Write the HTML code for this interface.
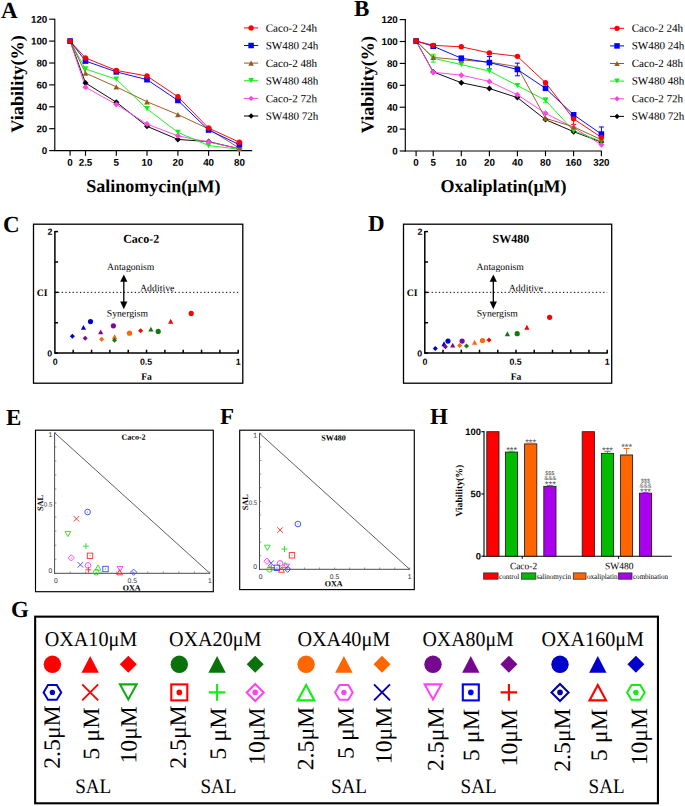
<!DOCTYPE html>
<html><head><meta charset="utf-8"><style>
html,body{margin:0;padding:0;background:#fff;}
svg{display:block;}
</style></head><body>
<svg width="685" height="806" viewBox="0 0 685 806">
<rect width="685" height="806" fill="#fff"/>
<text x="1.00" y="18.00" transform="rotate(0.03 1.00 18.00)" font-family="Liberation Serif" font-size="23" font-weight="bold" text-anchor="start" fill="#000" >A</text><text x="354.00" y="16.00" transform="rotate(0.03 354.00 16.00)" font-family="Liberation Serif" font-size="23" font-weight="bold" text-anchor="start" fill="#000" >B</text><text x="3.00" y="232.00" transform="rotate(0.03 3.00 232.00)" font-family="Liberation Serif" font-size="23" font-weight="bold" text-anchor="start" fill="#000" >C</text><text x="368.00" y="231.00" transform="rotate(0.03 368.00 231.00)" font-family="Liberation Serif" font-size="23" font-weight="bold" text-anchor="start" fill="#000" >D</text><text x="6.00" y="425.00" transform="rotate(0.03 6.00 425.00)" font-family="Liberation Serif" font-size="23" font-weight="bold" text-anchor="start" fill="#000" >E</text><text x="220.00" y="424.00" transform="rotate(0.03 220.00 424.00)" font-family="Liberation Serif" font-size="23" font-weight="bold" text-anchor="start" fill="#000" >F</text><text x="11.00" y="616.90" transform="rotate(0.03 11.00 616.90)" font-family="Liberation Serif" font-size="23" font-weight="bold" text-anchor="start" fill="#000" >G</text><text x="430.00" y="424.00" transform="rotate(0.03 430.00 424.00)" font-family="Liberation Serif" font-size="23" font-weight="bold" text-anchor="start" fill="#000" >H</text><line x1="54.80" y1="18.70" x2="54.80" y2="151.10" stroke="#000" stroke-width="1.15" /><line x1="49.20" y1="150.60" x2="54.80" y2="150.60" stroke="#000" stroke-width="1.15" /><text x="47.30" y="154.10" transform="rotate(0.03 47.30 154.10)" font-family="Liberation Sans" font-size="9.8" font-weight="bold" text-anchor="end" fill="#000" >0</text><line x1="49.20" y1="128.70" x2="54.80" y2="128.70" stroke="#000" stroke-width="1.15" /><text x="47.30" y="132.20" transform="rotate(0.03 47.30 132.20)" font-family="Liberation Sans" font-size="9.8" font-weight="bold" text-anchor="end" fill="#000" >20</text><line x1="49.20" y1="106.80" x2="54.80" y2="106.80" stroke="#000" stroke-width="1.15" /><text x="47.30" y="110.30" transform="rotate(0.03 47.30 110.30)" font-family="Liberation Sans" font-size="9.8" font-weight="bold" text-anchor="end" fill="#000" >40</text><line x1="49.20" y1="84.90" x2="54.80" y2="84.90" stroke="#000" stroke-width="1.15" /><text x="47.30" y="88.40" transform="rotate(0.03 47.30 88.40)" font-family="Liberation Sans" font-size="9.8" font-weight="bold" text-anchor="end" fill="#000" >60</text><line x1="49.20" y1="63.00" x2="54.80" y2="63.00" stroke="#000" stroke-width="1.15" /><text x="47.30" y="66.50" transform="rotate(0.03 47.30 66.50)" font-family="Liberation Sans" font-size="9.8" font-weight="bold" text-anchor="end" fill="#000" >80</text><line x1="49.20" y1="41.10" x2="54.80" y2="41.10" stroke="#000" stroke-width="1.15" /><text x="47.30" y="44.60" transform="rotate(0.03 47.30 44.60)" font-family="Liberation Sans" font-size="9.8" font-weight="bold" text-anchor="end" fill="#000" >100</text><line x1="49.20" y1="19.20" x2="54.80" y2="19.20" stroke="#000" stroke-width="1.15" /><text x="47.30" y="22.70" transform="rotate(0.03 47.30 22.70)" font-family="Liberation Sans" font-size="9.8" font-weight="bold" text-anchor="end" fill="#000" >120</text><line x1="54.20" y1="150.60" x2="252.20" y2="150.60" stroke="#000" stroke-width="1.15" /><line x1="70.10" y1="150.60" x2="70.10" y2="155.80" stroke="#000" stroke-width="1.15" /><text x="70.10" y="165.80" transform="rotate(0.03 70.10 165.80)" font-family="Liberation Sans" font-size="9.8" font-weight="bold" text-anchor="middle" fill="#000" >0</text><line x1="85.50" y1="150.60" x2="85.50" y2="155.80" stroke="#000" stroke-width="1.15" /><text x="85.50" y="165.80" transform="rotate(0.03 85.50 165.80)" font-family="Liberation Sans" font-size="9.8" font-weight="bold" text-anchor="middle" fill="#000" >2.5</text><line x1="116.30" y1="150.60" x2="116.30" y2="155.80" stroke="#000" stroke-width="1.15" /><text x="116.30" y="165.80" transform="rotate(0.03 116.30 165.80)" font-family="Liberation Sans" font-size="9.8" font-weight="bold" text-anchor="middle" fill="#000" >5</text><line x1="147.00" y1="150.60" x2="147.00" y2="155.80" stroke="#000" stroke-width="1.15" /><text x="147.00" y="165.80" transform="rotate(0.03 147.00 165.80)" font-family="Liberation Sans" font-size="9.8" font-weight="bold" text-anchor="middle" fill="#000" >10</text><line x1="177.90" y1="150.60" x2="177.90" y2="155.80" stroke="#000" stroke-width="1.15" /><text x="177.90" y="165.80" transform="rotate(0.03 177.90 165.80)" font-family="Liberation Sans" font-size="9.8" font-weight="bold" text-anchor="middle" fill="#000" >20</text><line x1="208.60" y1="150.60" x2="208.60" y2="155.80" stroke="#000" stroke-width="1.15" /><text x="208.60" y="165.80" transform="rotate(0.03 208.60 165.80)" font-family="Liberation Sans" font-size="9.8" font-weight="bold" text-anchor="middle" fill="#000" >40</text><line x1="239.40" y1="150.60" x2="239.40" y2="155.80" stroke="#000" stroke-width="1.15" /><text x="239.40" y="165.80" transform="rotate(0.03 239.40 165.80)" font-family="Liberation Sans" font-size="9.8" font-weight="bold" text-anchor="middle" fill="#000" >80</text><text x="86.30" y="192.10" transform="rotate(0.03 86.30 192.10)" font-family="Liberation Serif" font-size="18" font-weight="bold" text-anchor="start" fill="#000" textLength="134.2" lengthAdjust="spacingAndGlyphs" >Salinomycin(μM)</text><text transform="translate(23.20,84.00) rotate(-89.97)" x="0" y="0" font-family="Liberation Serif" font-size="18" font-weight="bold" text-anchor="middle" fill="#000" textLength="97.5" lengthAdjust="spacingAndGlyphs">Viability(%)</text><polyline points="70.10,41.10 85.50,82.93 116.30,102.20 147.00,126.29 177.90,139.43 208.60,141.62 239.40,148.85" fill="none" stroke="#000000" stroke-width="0.95" stroke-linejoin="round" /><polyline points="70.10,41.10 85.50,87.20 116.30,104.39 147.00,124.10 177.90,135.82 208.60,142.06 239.40,148.63" fill="none" stroke="#ff44e4" stroke-width="0.95" stroke-linejoin="round" /><polyline points="70.10,41.10 85.50,69.02 116.30,79.21 147.00,108.77 177.90,132.42 208.60,145.56 239.40,149.29" fill="none" stroke="#11f011" stroke-width="0.95" stroke-linejoin="round" /><polyline points="70.10,41.10 85.50,73.07 116.30,86.87 147.00,101.76 177.90,114.57 208.60,128.92 239.40,148.19" fill="none" stroke="#9a5a1e" stroke-width="0.95" stroke-linejoin="round" /><polyline points="70.10,41.10 85.50,61.03 116.30,71.87 147.00,79.64 177.90,100.45 208.60,130.01 239.40,144.69" fill="none" stroke="#0000ff" stroke-width="0.95" stroke-linejoin="round" /><polyline points="70.10,41.10 85.50,57.96 116.30,70.45 147.00,76.03 177.90,96.73 208.60,128.04 239.40,142.28" fill="none" stroke="#ff0000" stroke-width="0.95" stroke-linejoin="round" /><polygon points="70.10,38.10 73.10,41.10 70.10,44.10 67.10,41.10" fill="#000000" /><polygon points="85.50,79.93 88.50,82.93 85.50,85.93 82.50,82.93" fill="#000000" /><polygon points="116.30,99.20 119.30,102.20 116.30,105.20 113.30,102.20" fill="#000000" /><polygon points="147.00,123.29 150.00,126.29 147.00,129.29 144.00,126.29" fill="#000000" /><polygon points="177.90,136.43 180.90,139.43 177.90,142.43 174.90,139.43" fill="#000000" /><polygon points="208.60,138.62 211.60,141.62 208.60,144.62 205.60,141.62" fill="#000000" /><polygon points="239.40,145.85 242.40,148.85 239.40,151.85 236.40,148.85" fill="#000000" /><polygon points="70.10,38.10 73.10,41.10 70.10,44.10 67.10,41.10" fill="#ff44e4" /><polygon points="85.50,84.20 88.50,87.20 85.50,90.20 82.50,87.20" fill="#ff44e4" /><polygon points="116.30,101.39 119.30,104.39 116.30,107.39 113.30,104.39" fill="#ff44e4" /><polygon points="147.00,121.10 150.00,124.10 147.00,127.10 144.00,124.10" fill="#ff44e4" /><polygon points="177.90,132.82 180.90,135.82 177.90,138.82 174.90,135.82" fill="#ff44e4" /><polygon points="208.60,139.06 211.60,142.06 208.60,145.06 205.60,142.06" fill="#ff44e4" /><polygon points="239.40,145.63 242.40,148.63 239.40,151.63 236.40,148.63" fill="#ff44e4" /><polygon points="67.30,38.44 72.90,38.44 70.10,43.76" fill="#11f011" /><polygon points="82.70,66.36 88.30,66.36 85.50,71.68" fill="#11f011" /><polygon points="113.50,76.55 119.10,76.55 116.30,81.87" fill="#11f011" /><polygon points="144.20,106.11 149.80,106.11 147.00,111.43" fill="#11f011" /><polygon points="175.10,129.76 180.70,129.76 177.90,135.08" fill="#11f011" /><polygon points="205.80,142.90 211.40,142.90 208.60,148.22" fill="#11f011" /><polygon points="236.60,146.63 242.20,146.63 239.40,151.95" fill="#11f011" /><polygon points="70.10,38.44 72.90,43.76 67.30,43.76" fill="#9a5a1e" /><polygon points="85.50,70.41 88.30,75.73 82.70,75.73" fill="#9a5a1e" /><polygon points="116.30,84.21 119.10,89.53 113.50,89.53" fill="#9a5a1e" /><polygon points="147.00,99.10 149.80,104.42 144.20,104.42" fill="#9a5a1e" /><polygon points="177.90,111.91 180.70,117.23 175.10,117.23" fill="#9a5a1e" /><polygon points="208.60,126.26 211.40,131.58 205.80,131.58" fill="#9a5a1e" /><polygon points="239.40,145.53 242.20,150.85 236.60,150.85" fill="#9a5a1e" /><rect x="67.30" y="38.30" width="5.60" height="5.60" fill="#0000ff" /><rect x="82.70" y="58.23" width="5.60" height="5.60" fill="#0000ff" /><rect x="113.50" y="69.07" width="5.60" height="5.60" fill="#0000ff" /><rect x="144.20" y="76.84" width="5.60" height="5.60" fill="#0000ff" /><rect x="175.10" y="97.65" width="5.60" height="5.60" fill="#0000ff" /><rect x="205.80" y="127.21" width="5.60" height="5.60" fill="#0000ff" /><rect x="236.60" y="141.89" width="5.60" height="5.60" fill="#0000ff" /><circle cx="70.10" cy="41.10" r="2.70" fill="#ff0000" /><circle cx="85.50" cy="57.96" r="2.70" fill="#ff0000" /><circle cx="116.30" cy="70.45" r="2.70" fill="#ff0000" /><circle cx="147.00" cy="76.03" r="2.70" fill="#ff0000" /><circle cx="177.90" cy="96.73" r="2.70" fill="#ff0000" /><circle cx="208.60" cy="128.04" r="2.70" fill="#ff0000" /><circle cx="239.40" cy="142.28" r="2.70" fill="#ff0000" /><line x1="244.00" y1="27.90" x2="258.20" y2="27.90" stroke="#ff0000" stroke-width="1.0" /><circle cx="251.10" cy="27.90" r="2.65" fill="#ff0000" /><text x="265.70" y="31.70" transform="rotate(0.03 265.70 31.70)" font-family="Liberation Serif" font-size="11.1" font-weight="normal" text-anchor="start" fill="#000" >Caco-2 24h</text><line x1="244.00" y1="45.50" x2="258.20" y2="45.50" stroke="#0000ff" stroke-width="1.0" /><rect x="248.36" y="42.76" width="5.49" height="5.49" fill="#0000ff" /><text x="265.70" y="49.30" transform="rotate(0.03 265.70 49.30)" font-family="Liberation Serif" font-size="11.1" font-weight="normal" text-anchor="start" fill="#000" >SW480 24h</text><line x1="244.00" y1="63.10" x2="258.20" y2="63.10" stroke="#9a5a1e" stroke-width="1.0" /><polygon points="251.10,60.49 253.84,65.71 248.36,65.71" fill="#9a5a1e" /><text x="265.70" y="66.90" transform="rotate(0.03 265.70 66.90)" font-family="Liberation Serif" font-size="11.1" font-weight="normal" text-anchor="start" fill="#000" >Caco-2 48h</text><line x1="244.00" y1="80.70" x2="258.20" y2="80.70" stroke="#11f011" stroke-width="1.0" /><polygon points="248.36,78.09 253.84,78.09 251.10,83.31" fill="#11f011" /><text x="265.70" y="84.50" transform="rotate(0.03 265.70 84.50)" font-family="Liberation Serif" font-size="11.1" font-weight="normal" text-anchor="start" fill="#000" >SW480 48h</text><line x1="244.00" y1="98.40" x2="258.20" y2="98.40" stroke="#ff44e4" stroke-width="1.0" /><polygon points="251.10,95.70 253.80,98.40 251.10,101.10 248.40,98.40" fill="#ff44e4" /><text x="265.70" y="102.20" transform="rotate(0.03 265.70 102.20)" font-family="Liberation Serif" font-size="11.1" font-weight="normal" text-anchor="start" fill="#000" >Caco-2 72h</text><line x1="244.00" y1="116.00" x2="258.20" y2="116.00" stroke="#000000" stroke-width="1.0" /><polygon points="251.10,113.30 253.80,116.00 251.10,118.70 248.40,116.00" fill="#000000" /><text x="265.70" y="119.80" transform="rotate(0.03 265.70 119.80)" font-family="Liberation Serif" font-size="11.1" font-weight="normal" text-anchor="start" fill="#000" >SW480 72h</text><line x1="405.30" y1="19.10" x2="405.30" y2="151.50" stroke="#000" stroke-width="1.15" /><line x1="399.70" y1="151.00" x2="405.30" y2="151.00" stroke="#000" stroke-width="1.15" /><text x="397.80" y="154.50" transform="rotate(0.03 397.80 154.50)" font-family="Liberation Sans" font-size="9.8" font-weight="bold" text-anchor="end" fill="#000" >0</text><line x1="399.70" y1="129.10" x2="405.30" y2="129.10" stroke="#000" stroke-width="1.15" /><text x="397.80" y="132.60" transform="rotate(0.03 397.80 132.60)" font-family="Liberation Sans" font-size="9.8" font-weight="bold" text-anchor="end" fill="#000" >20</text><line x1="399.70" y1="107.20" x2="405.30" y2="107.20" stroke="#000" stroke-width="1.15" /><text x="397.80" y="110.70" transform="rotate(0.03 397.80 110.70)" font-family="Liberation Sans" font-size="9.8" font-weight="bold" text-anchor="end" fill="#000" >40</text><line x1="399.70" y1="85.30" x2="405.30" y2="85.30" stroke="#000" stroke-width="1.15" /><text x="397.80" y="88.80" transform="rotate(0.03 397.80 88.80)" font-family="Liberation Sans" font-size="9.8" font-weight="bold" text-anchor="end" fill="#000" >60</text><line x1="399.70" y1="63.40" x2="405.30" y2="63.40" stroke="#000" stroke-width="1.15" /><text x="397.80" y="66.90" transform="rotate(0.03 397.80 66.90)" font-family="Liberation Sans" font-size="9.8" font-weight="bold" text-anchor="end" fill="#000" >80</text><line x1="399.70" y1="41.50" x2="405.30" y2="41.50" stroke="#000" stroke-width="1.15" /><text x="397.80" y="45.00" transform="rotate(0.03 397.80 45.00)" font-family="Liberation Sans" font-size="9.8" font-weight="bold" text-anchor="end" fill="#000" >100</text><line x1="399.70" y1="19.60" x2="405.30" y2="19.60" stroke="#000" stroke-width="1.15" /><text x="397.80" y="23.10" transform="rotate(0.03 397.80 23.10)" font-family="Liberation Sans" font-size="9.8" font-weight="bold" text-anchor="end" fill="#000" >120</text><line x1="404.70" y1="151.00" x2="601.90" y2="151.00" stroke="#000" stroke-width="1.15" /><line x1="416.10" y1="151.00" x2="416.10" y2="156.20" stroke="#000" stroke-width="1.15" /><text x="416.10" y="165.80" transform="rotate(0.03 416.10 165.80)" font-family="Liberation Sans" font-size="9.8" font-weight="bold" text-anchor="middle" fill="#000" >0</text><line x1="433.20" y1="151.00" x2="433.20" y2="156.20" stroke="#000" stroke-width="1.15" /><text x="433.20" y="165.80" transform="rotate(0.03 433.20 165.80)" font-family="Liberation Sans" font-size="9.8" font-weight="bold" text-anchor="middle" fill="#000" >5</text><line x1="461.30" y1="151.00" x2="461.30" y2="156.20" stroke="#000" stroke-width="1.15" /><text x="461.30" y="165.80" transform="rotate(0.03 461.30 165.80)" font-family="Liberation Sans" font-size="9.8" font-weight="bold" text-anchor="middle" fill="#000" >10</text><line x1="489.40" y1="151.00" x2="489.40" y2="156.20" stroke="#000" stroke-width="1.15" /><text x="489.40" y="165.80" transform="rotate(0.03 489.40 165.80)" font-family="Liberation Sans" font-size="9.8" font-weight="bold" text-anchor="middle" fill="#000" >20</text><line x1="517.40" y1="151.00" x2="517.40" y2="156.20" stroke="#000" stroke-width="1.15" /><text x="517.40" y="165.80" transform="rotate(0.03 517.40 165.80)" font-family="Liberation Sans" font-size="9.8" font-weight="bold" text-anchor="middle" fill="#000" >40</text><line x1="545.50" y1="151.00" x2="545.50" y2="156.20" stroke="#000" stroke-width="1.15" /><text x="545.50" y="165.80" transform="rotate(0.03 545.50 165.80)" font-family="Liberation Sans" font-size="9.8" font-weight="bold" text-anchor="middle" fill="#000" >80</text><line x1="573.60" y1="151.00" x2="573.60" y2="156.20" stroke="#000" stroke-width="1.15" /><text x="573.60" y="165.80" transform="rotate(0.03 573.60 165.80)" font-family="Liberation Sans" font-size="9.8" font-weight="bold" text-anchor="middle" fill="#000" >160</text><line x1="601.40" y1="151.00" x2="601.40" y2="156.20" stroke="#000" stroke-width="1.15" /><text x="601.40" y="165.80" transform="rotate(0.03 601.40 165.80)" font-family="Liberation Sans" font-size="9.8" font-weight="bold" text-anchor="middle" fill="#000" >320</text><text x="440.40" y="192.10" transform="rotate(0.03 440.40 192.10)" font-family="Liberation Serif" font-size="18" font-weight="bold" text-anchor="start" fill="#000" textLength="126.2" lengthAdjust="spacingAndGlyphs" >Oxaliplatin(μM)</text><text transform="translate(373.60,84.60) rotate(-89.97)" x="0" y="0" font-family="Liberation Serif" font-size="18" font-weight="bold" text-anchor="middle" fill="#000" textLength="97.5" lengthAdjust="spacingAndGlyphs">Viability(%)</text><line x1="489.40" y1="56.55" x2="489.40" y2="68.59" stroke="#0000ff" stroke-width="1" /><line x1="486.90" y1="56.55" x2="491.90" y2="56.55" stroke="#0000ff" stroke-width="1" /><line x1="486.90" y1="68.59" x2="491.90" y2="68.59" stroke="#0000ff" stroke-width="1" /><line x1="517.40" y1="63.12" x2="517.40" y2="75.82" stroke="#0000ff" stroke-width="1" /><line x1="514.90" y1="63.12" x2="519.90" y2="63.12" stroke="#0000ff" stroke-width="1" /><line x1="514.90" y1="75.82" x2="519.90" y2="75.82" stroke="#0000ff" stroke-width="1" /><line x1="573.60" y1="112.61" x2="573.60" y2="116.99" stroke="#0000ff" stroke-width="1" /><line x1="571.10" y1="112.61" x2="576.10" y2="112.61" stroke="#0000ff" stroke-width="1" /><line x1="571.10" y1="116.99" x2="576.10" y2="116.99" stroke="#0000ff" stroke-width="1" /><line x1="601.40" y1="126.96" x2="601.40" y2="141.19" stroke="#0000ff" stroke-width="1" /><line x1="598.90" y1="126.96" x2="603.90" y2="126.96" stroke="#0000ff" stroke-width="1" /><line x1="598.90" y1="141.19" x2="603.90" y2="141.19" stroke="#0000ff" stroke-width="1" /><line x1="433.20" y1="54.25" x2="433.20" y2="62.13" stroke="#11f011" stroke-width="1" /><line x1="430.70" y1="54.25" x2="435.70" y2="54.25" stroke="#11f011" stroke-width="1" /><line x1="430.70" y1="62.13" x2="435.70" y2="62.13" stroke="#11f011" stroke-width="1" /><line x1="573.60" y1="113.38" x2="573.60" y2="124.33" stroke="#ff0000" stroke-width="1" /><line x1="571.10" y1="113.38" x2="576.10" y2="113.38" stroke="#ff0000" stroke-width="1" /><line x1="571.10" y1="124.33" x2="576.10" y2="124.33" stroke="#ff0000" stroke-width="1" /><line x1="545.50" y1="97.94" x2="545.50" y2="102.76" stroke="#11f011" stroke-width="1" /><line x1="543.00" y1="97.94" x2="548.00" y2="97.94" stroke="#11f011" stroke-width="1" /><line x1="543.00" y1="102.76" x2="548.00" y2="102.76" stroke="#11f011" stroke-width="1" /><polyline points="416.10,41.00 433.20,71.88 461.30,82.72 489.40,88.52 517.40,97.61 545.50,119.62 573.60,131.67 601.40,142.07" fill="none" stroke="#000000" stroke-width="0.95" stroke-linejoin="round" /><polyline points="416.10,41.00 433.20,72.21 461.30,75.16 489.40,81.41 517.40,94.76 545.50,113.27 573.60,127.61 601.40,144.81" fill="none" stroke="#ff44e4" stroke-width="0.95" stroke-linejoin="round" /><polyline points="416.10,41.00 433.20,58.19 461.30,64.65 489.40,71.00 517.40,85.57 545.50,100.35 573.60,130.79 601.40,141.30" fill="none" stroke="#11f011" stroke-width="0.95" stroke-linejoin="round" /><polyline points="416.10,41.00 433.20,57.42 461.30,59.94 489.40,62.13 517.40,66.73 545.50,118.31 573.60,126.85 601.40,139.66" fill="none" stroke="#9a5a1e" stroke-width="0.95" stroke-linejoin="round" /><polyline points="416.10,41.00 433.20,46.26 461.30,58.19 489.40,62.57 517.40,69.47 545.50,88.30 573.60,114.80 601.40,134.07" fill="none" stroke="#0000ff" stroke-width="0.95" stroke-linejoin="round" /><polyline points="416.10,41.00 433.20,45.38 461.30,46.80 489.40,52.94 517.40,56.33 545.50,82.72 573.60,118.85 601.40,137.36" fill="none" stroke="#ff0000" stroke-width="0.95" stroke-linejoin="round" /><polygon points="416.10,38.00 419.10,41.00 416.10,44.00 413.10,41.00" fill="#000000" /><polygon points="433.20,68.88 436.20,71.88 433.20,74.88 430.20,71.88" fill="#000000" /><polygon points="461.30,79.72 464.30,82.72 461.30,85.72 458.30,82.72" fill="#000000" /><polygon points="489.40,85.52 492.40,88.52 489.40,91.52 486.40,88.52" fill="#000000" /><polygon points="517.40,94.61 520.40,97.61 517.40,100.61 514.40,97.61" fill="#000000" /><polygon points="545.50,116.62 548.50,119.62 545.50,122.62 542.50,119.62" fill="#000000" /><polygon points="573.60,128.67 576.60,131.67 573.60,134.67 570.60,131.67" fill="#000000" /><polygon points="601.40,139.07 604.40,142.07 601.40,145.07 598.40,142.07" fill="#000000" /><polygon points="416.10,38.00 419.10,41.00 416.10,44.00 413.10,41.00" fill="#ff44e4" /><polygon points="433.20,69.21 436.20,72.21 433.20,75.21 430.20,72.21" fill="#ff44e4" /><polygon points="461.30,72.16 464.30,75.16 461.30,78.16 458.30,75.16" fill="#ff44e4" /><polygon points="489.40,78.41 492.40,81.41 489.40,84.41 486.40,81.41" fill="#ff44e4" /><polygon points="517.40,91.76 520.40,94.76 517.40,97.76 514.40,94.76" fill="#ff44e4" /><polygon points="545.50,110.27 548.50,113.27 545.50,116.27 542.50,113.27" fill="#ff44e4" /><polygon points="573.60,124.61 576.60,127.61 573.60,130.61 570.60,127.61" fill="#ff44e4" /><polygon points="601.40,141.81 604.40,144.81 601.40,147.81 598.40,144.81" fill="#ff44e4" /><polygon points="413.30,38.34 418.90,38.34 416.10,43.66" fill="#11f011" /><polygon points="430.40,55.53 436.00,55.53 433.20,60.85" fill="#11f011" /><polygon points="458.50,61.99 464.10,61.99 461.30,67.31" fill="#11f011" /><polygon points="486.60,68.34 492.20,68.34 489.40,73.66" fill="#11f011" /><polygon points="514.60,82.91 520.20,82.91 517.40,88.23" fill="#11f011" /><polygon points="542.70,97.69 548.30,97.69 545.50,103.01" fill="#11f011" /><polygon points="570.80,128.13 576.40,128.13 573.60,133.45" fill="#11f011" /><polygon points="598.60,138.64 604.20,138.64 601.40,143.96" fill="#11f011" /><polygon points="416.10,38.34 418.90,43.66 413.30,43.66" fill="#9a5a1e" /><polygon points="433.20,54.77 436.00,60.08 430.40,60.08" fill="#9a5a1e" /><polygon points="461.30,57.28 464.10,62.60 458.50,62.60" fill="#9a5a1e" /><polygon points="489.40,59.47 492.20,64.79 486.60,64.79" fill="#9a5a1e" /><polygon points="517.40,64.07 520.20,69.39 514.60,69.39" fill="#9a5a1e" /><polygon points="545.50,115.65 548.30,120.97 542.70,120.97" fill="#9a5a1e" /><polygon points="573.60,124.19 576.40,129.51 570.80,129.51" fill="#9a5a1e" /><polygon points="601.40,137.00 604.20,142.32 598.60,142.32" fill="#9a5a1e" /><rect x="413.30" y="38.20" width="5.60" height="5.60" fill="#0000ff" /><rect x="430.40" y="43.46" width="5.60" height="5.60" fill="#0000ff" /><rect x="458.50" y="55.39" width="5.60" height="5.60" fill="#0000ff" /><rect x="486.60" y="59.77" width="5.60" height="5.60" fill="#0000ff" /><rect x="514.60" y="66.67" width="5.60" height="5.60" fill="#0000ff" /><rect x="542.70" y="85.50" width="5.60" height="5.60" fill="#0000ff" /><rect x="570.80" y="112.00" width="5.60" height="5.60" fill="#0000ff" /><rect x="598.60" y="131.27" width="5.60" height="5.60" fill="#0000ff" /><circle cx="416.10" cy="41.00" r="2.70" fill="#ff0000" /><circle cx="433.20" cy="45.38" r="2.70" fill="#ff0000" /><circle cx="461.30" cy="46.80" r="2.70" fill="#ff0000" /><circle cx="489.40" cy="52.94" r="2.70" fill="#ff0000" /><circle cx="517.40" cy="56.33" r="2.70" fill="#ff0000" /><circle cx="545.50" cy="82.72" r="2.70" fill="#ff0000" /><circle cx="573.60" cy="118.85" r="2.70" fill="#ff0000" /><circle cx="601.40" cy="137.36" r="2.70" fill="#ff0000" /><line x1="610.00" y1="28.30" x2="624.00" y2="28.30" stroke="#ff0000" stroke-width="1.0" /><circle cx="617.00" cy="28.30" r="2.65" fill="#ff0000" /><text x="631.70" y="31.70" transform="rotate(0.03 631.70 31.70)" font-family="Liberation Serif" font-size="11.1" font-weight="normal" text-anchor="start" fill="#000" >Caco-2 24h</text><line x1="610.00" y1="45.90" x2="624.00" y2="45.90" stroke="#0000ff" stroke-width="1.0" /><rect x="614.26" y="43.16" width="5.49" height="5.49" fill="#0000ff" /><text x="631.70" y="49.30" transform="rotate(0.03 631.70 49.30)" font-family="Liberation Serif" font-size="11.1" font-weight="normal" text-anchor="start" fill="#000" >SW480 24h</text><line x1="610.00" y1="63.50" x2="624.00" y2="63.50" stroke="#9a5a1e" stroke-width="1.0" /><polygon points="617.00,60.89 619.74,66.11 614.26,66.11" fill="#9a5a1e" /><text x="631.70" y="66.90" transform="rotate(0.03 631.70 66.90)" font-family="Liberation Serif" font-size="11.1" font-weight="normal" text-anchor="start" fill="#000" >Caco-2 48h</text><line x1="610.00" y1="81.10" x2="624.00" y2="81.10" stroke="#11f011" stroke-width="1.0" /><polygon points="614.26,78.49 619.74,78.49 617.00,83.71" fill="#11f011" /><text x="631.70" y="84.50" transform="rotate(0.03 631.70 84.50)" font-family="Liberation Serif" font-size="11.1" font-weight="normal" text-anchor="start" fill="#000" >SW480 48h</text><line x1="610.00" y1="98.80" x2="624.00" y2="98.80" stroke="#ff44e4" stroke-width="1.0" /><polygon points="617.00,96.10 619.70,98.80 617.00,101.50 614.30,98.80" fill="#ff44e4" /><text x="631.70" y="102.20" transform="rotate(0.03 631.70 102.20)" font-family="Liberation Serif" font-size="11.1" font-weight="normal" text-anchor="start" fill="#000" >Caco-2 72h</text><line x1="610.00" y1="116.40" x2="624.00" y2="116.40" stroke="#000000" stroke-width="1.0" /><polygon points="617.00,113.70 619.70,116.40 617.00,119.10 614.30,116.40" fill="#000000" /><text x="631.70" y="119.80" transform="rotate(0.03 631.70 119.80)" font-family="Liberation Serif" font-size="11.1" font-weight="normal" text-anchor="start" fill="#000" >SW480 72h</text><rect x="33.50" y="224.2" width="209.30" height="159.0" fill="none" stroke="#000" stroke-width="1.3"/><line x1="54.90" y1="231.00" x2="54.90" y2="353.70" stroke="#000" stroke-width="1.5" /><line x1="54.90" y1="353.10" x2="58.10" y2="353.10" stroke="#000" stroke-width="1.5" /><line x1="54.90" y1="322.73" x2="58.10" y2="322.73" stroke="#000" stroke-width="1.5" /><line x1="54.90" y1="292.35" x2="58.10" y2="292.35" stroke="#000" stroke-width="1.5" /><line x1="54.90" y1="261.98" x2="58.10" y2="261.98" stroke="#000" stroke-width="1.5" /><line x1="54.90" y1="231.60" x2="58.10" y2="231.60" stroke="#000" stroke-width="1.5" /><line x1="54.90" y1="353.10" x2="238.80" y2="353.10" stroke="#000" stroke-width="1.5" /><line x1="73.23" y1="353.10" x2="73.23" y2="349.70" stroke="#000" stroke-width="1.5" /><line x1="91.56" y1="353.10" x2="91.56" y2="349.70" stroke="#000" stroke-width="1.5" /><line x1="109.89" y1="353.10" x2="109.89" y2="349.70" stroke="#000" stroke-width="1.5" /><line x1="128.22" y1="353.10" x2="128.22" y2="349.70" stroke="#000" stroke-width="1.5" /><line x1="146.55" y1="353.10" x2="146.55" y2="349.70" stroke="#000" stroke-width="1.5" /><line x1="164.88" y1="353.10" x2="164.88" y2="349.70" stroke="#000" stroke-width="1.5" /><line x1="183.21" y1="353.10" x2="183.21" y2="349.70" stroke="#000" stroke-width="1.5" /><line x1="201.54" y1="353.10" x2="201.54" y2="349.70" stroke="#000" stroke-width="1.5" /><line x1="219.87" y1="353.10" x2="219.87" y2="349.70" stroke="#000" stroke-width="1.5" /><line x1="238.20" y1="353.10" x2="238.20" y2="349.70" stroke="#000" stroke-width="1.5" /><line x1="58.05" y1="292.35" x2="238.20" y2="292.35" stroke="#000" stroke-width="1.0" stroke-dasharray="1.3 2.35"/><text x="52.40" y="234.80" transform="rotate(0.03 52.40 234.80)" font-family="Liberation Sans" font-size="8.8" font-weight="bold" text-anchor="end" fill="#000" >2</text><text x="52.20" y="356.50" transform="rotate(0.03 52.20 356.50)" font-family="Liberation Sans" font-size="8.8" font-weight="bold" text-anchor="end" fill="#000" >0</text><text x="55.10" y="364.80" transform="rotate(0.03 55.10 364.80)" font-family="Liberation Sans" font-size="8.8" font-weight="bold" text-anchor="middle" fill="#000" >0</text><text x="146.05" y="364.80" transform="rotate(0.03 146.05 364.80)" font-family="Liberation Sans" font-size="8.8" font-weight="bold" text-anchor="middle" fill="#000" >0.5</text><text x="238.20" y="364.80" transform="rotate(0.03 238.20 364.80)" font-family="Liberation Sans" font-size="8.8" font-weight="bold" text-anchor="middle" fill="#000" >1</text><text x="36.80" y="295.95" transform="rotate(0.03 36.80 295.95)" font-family="Liberation Serif" font-size="9.8" font-weight="bold" text-anchor="start" fill="#000" >CI</text><text x="146.55" y="379.80" transform="rotate(0.03 146.55 379.80)" font-family="Liberation Serif" font-size="9.6" font-weight="bold" text-anchor="middle" fill="#000" >Fa</text><text x="141.20" y="242.70" transform="rotate(0.03 141.20 242.70)" font-family="Liberation Serif" font-size="12" font-weight="bold" text-anchor="middle" fill="#000" >Caco-2</text><text x="107.10" y="270.10" transform="rotate(0.03 107.10 270.10)" font-family="Liberation Serif" font-size="9.8" font-weight="normal" text-anchor="start" fill="#000" textLength="47.3" lengthAdjust="spacingAndGlyphs" >Antagonism</text><text x="140.00" y="291.20" transform="rotate(0.03 140.00 291.20)" font-family="Liberation Serif" font-size="9.8" font-weight="normal" text-anchor="start" fill="#000" textLength="34.5" lengthAdjust="spacingAndGlyphs" >Additive</text><text x="106.80" y="316.40" transform="rotate(0.03 106.80 316.40)" font-family="Liberation Serif" font-size="9.8" font-weight="normal" text-anchor="start" fill="#000" textLength="41.2" lengthAdjust="spacingAndGlyphs" >Synergism</text><line x1="123.80" y1="279.50" x2="123.80" y2="303.50" stroke="#000" stroke-width="1.3" /><polygon points="123.80,274.4 127.40,281.8 120.20,281.8" fill="#000"/><polygon points="123.80,309.2 127.40,301.4 120.20,301.4" fill="#000"/><polygon points="72.40,333.80 74.90,336.30 72.40,338.80 69.90,336.30" fill="#0000cc" /><polygon points="83.50,324.93 86.10,329.87 80.90,329.87" fill="#0000cc" /><circle cx="90.50" cy="321.60" r="2.60" fill="#0000cc" /><polygon points="85.20,335.80 87.70,338.30 85.20,340.80 82.70,338.30" fill="#7a0a9a" /><polygon points="100.70,329.43 103.30,334.37 98.10,334.37" fill="#7a0a9a" /><circle cx="113.40" cy="325.80" r="2.60" fill="#7a0a9a" /><polygon points="101.60,336.80 104.10,339.30 101.60,341.80 99.10,339.30" fill="#ff6600" /><polygon points="114.60,334.13 117.20,339.07 112.00,339.07" fill="#ff6600" /><polygon points="114.50,337.70 117.00,340.20 114.50,342.70 112.00,340.20" fill="#117a11" /><circle cx="129.50" cy="333.20" r="2.60" fill="#ff6600" /><polygon points="140.60,328.20 143.10,330.70 140.60,333.20 138.10,330.70" fill="#ff0000" /><polygon points="150.90,326.63 153.50,331.57 148.30,331.57" fill="#117a11" /><circle cx="158.20" cy="331.40" r="2.60" fill="#117a11" /><polygon points="170.70,318.83 173.30,323.77 168.10,323.77" fill="#ff0000" /><circle cx="191.20" cy="313.40" r="2.60" fill="#ff0000" /><rect x="403.50" y="224.2" width="208.20" height="159.0" fill="none" stroke="#000" stroke-width="1.3"/><line x1="424.80" y1="231.00" x2="424.80" y2="353.70" stroke="#000" stroke-width="1.5" /><line x1="424.80" y1="353.10" x2="428.00" y2="353.10" stroke="#000" stroke-width="1.5" /><line x1="424.80" y1="322.73" x2="428.00" y2="322.73" stroke="#000" stroke-width="1.5" /><line x1="424.80" y1="292.35" x2="428.00" y2="292.35" stroke="#000" stroke-width="1.5" /><line x1="424.80" y1="261.98" x2="428.00" y2="261.98" stroke="#000" stroke-width="1.5" /><line x1="424.80" y1="231.60" x2="428.00" y2="231.60" stroke="#000" stroke-width="1.5" /><line x1="424.80" y1="353.10" x2="607.80" y2="353.10" stroke="#000" stroke-width="1.5" /><line x1="443.04" y1="353.10" x2="443.04" y2="349.70" stroke="#000" stroke-width="1.5" /><line x1="461.28" y1="353.10" x2="461.28" y2="349.70" stroke="#000" stroke-width="1.5" /><line x1="479.52" y1="353.10" x2="479.52" y2="349.70" stroke="#000" stroke-width="1.5" /><line x1="497.76" y1="353.10" x2="497.76" y2="349.70" stroke="#000" stroke-width="1.5" /><line x1="516.00" y1="353.10" x2="516.00" y2="349.70" stroke="#000" stroke-width="1.5" /><line x1="534.24" y1="353.10" x2="534.24" y2="349.70" stroke="#000" stroke-width="1.5" /><line x1="552.48" y1="353.10" x2="552.48" y2="349.70" stroke="#000" stroke-width="1.5" /><line x1="570.72" y1="353.10" x2="570.72" y2="349.70" stroke="#000" stroke-width="1.5" /><line x1="588.96" y1="353.10" x2="588.96" y2="349.70" stroke="#000" stroke-width="1.5" /><line x1="607.20" y1="353.10" x2="607.20" y2="349.70" stroke="#000" stroke-width="1.5" /><line x1="427.95" y1="292.35" x2="607.20" y2="292.35" stroke="#000" stroke-width="1.0" stroke-dasharray="1.3 2.35"/><text x="422.30" y="234.80" transform="rotate(0.03 422.30 234.80)" font-family="Liberation Sans" font-size="8.8" font-weight="bold" text-anchor="end" fill="#000" >2</text><text x="422.10" y="356.50" transform="rotate(0.03 422.10 356.50)" font-family="Liberation Sans" font-size="8.8" font-weight="bold" text-anchor="end" fill="#000" >0</text><text x="425.00" y="364.80" transform="rotate(0.03 425.00 364.80)" font-family="Liberation Sans" font-size="8.8" font-weight="bold" text-anchor="middle" fill="#000" >0</text><text x="515.50" y="364.80" transform="rotate(0.03 515.50 364.80)" font-family="Liberation Sans" font-size="8.8" font-weight="bold" text-anchor="middle" fill="#000" >0.5</text><text x="607.20" y="364.80" transform="rotate(0.03 607.20 364.80)" font-family="Liberation Sans" font-size="8.8" font-weight="bold" text-anchor="middle" fill="#000" >1</text><text x="406.70" y="295.95" transform="rotate(0.03 406.70 295.95)" font-family="Liberation Serif" font-size="9.8" font-weight="bold" text-anchor="start" fill="#000" >CI</text><text x="516.00" y="379.80" transform="rotate(0.03 516.00 379.80)" font-family="Liberation Serif" font-size="9.6" font-weight="bold" text-anchor="middle" fill="#000" >Fa</text><text x="510.80" y="242.70" transform="rotate(0.03 510.80 242.70)" font-family="Liberation Serif" font-size="12" font-weight="bold" text-anchor="middle" fill="#000" >SW480</text><text x="476.60" y="270.10" transform="rotate(0.03 476.60 270.10)" font-family="Liberation Serif" font-size="9.8" font-weight="normal" text-anchor="start" fill="#000" textLength="47.3" lengthAdjust="spacingAndGlyphs" >Antagonism</text><text x="508.70" y="291.20" transform="rotate(0.03 508.70 291.20)" font-family="Liberation Serif" font-size="9.8" font-weight="normal" text-anchor="start" fill="#000" textLength="34.5" lengthAdjust="spacingAndGlyphs" >Additive</text><text x="476.70" y="316.40" transform="rotate(0.03 476.70 316.40)" font-family="Liberation Serif" font-size="9.8" font-weight="normal" text-anchor="start" fill="#000" textLength="41.2" lengthAdjust="spacingAndGlyphs" >Synergism</text><line x1="493.30" y1="279.50" x2="493.30" y2="303.50" stroke="#000" stroke-width="1.3" /><polygon points="493.30,274.4 496.90,281.8 489.70,281.8" fill="#000"/><polygon points="493.30,309.2 496.90,301.4 489.70,301.4" fill="#000"/><polygon points="435.30,345.90 437.80,348.40 435.30,350.90 432.80,348.40" fill="#0000cc" /><polygon points="444.00,341.23 446.60,346.17 441.40,346.17" fill="#0000cc" /><circle cx="448.00" cy="341.10" r="2.60" fill="#0000cc" /><polygon points="445.40,344.30 447.90,346.80 445.40,349.30 442.90,346.80" fill="#7a0a9a" /><polygon points="452.70,342.63 455.30,347.57 450.10,347.57" fill="#7a0a9a" /><circle cx="462.10" cy="341.10" r="2.60" fill="#7a0a9a" /><polygon points="459.70,342.90 462.20,345.40 459.70,347.90 457.20,345.40" fill="#ff6600" /><polygon points="474.60,339.73 477.20,344.67 472.00,344.67" fill="#ff6600" /><polygon points="466.50,343.50 469.00,346.00 466.50,348.50 464.00,346.00" fill="#117a11" /><circle cx="482.50" cy="340.50" r="2.60" fill="#ff6600" /><polygon points="489.00,337.50 491.50,340.00 489.00,342.50 486.50,340.00" fill="#ff0000" /><polygon points="507.40,331.23 510.00,336.17 504.80,336.17" fill="#117a11" /><circle cx="517.20" cy="333.70" r="2.60" fill="#117a11" /><polygon points="526.90,324.83 529.50,329.77 524.30,329.77" fill="#ff0000" /><circle cx="549.60" cy="317.30" r="2.60" fill="#ff0000" /><rect x="35.50" y="430.20" width="177.80" height="161.50" fill="none" stroke="#000" stroke-width="1.15"/><line x1="54.60" y1="432.80" x2="54.60" y2="573.70" stroke="#2a2a2a" stroke-width="0.85" /><line x1="54.20" y1="573.30" x2="209.90" y2="573.30" stroke="#2a2a2a" stroke-width="0.85" /><line x1="54.60" y1="559.25" x2="56.40" y2="559.25" stroke="#666" stroke-width="0.7" /><line x1="70.13" y1="573.30" x2="70.13" y2="571.50" stroke="#666" stroke-width="0.7" /><line x1="54.60" y1="545.20" x2="56.40" y2="545.20" stroke="#666" stroke-width="0.7" /><line x1="85.66" y1="573.30" x2="85.66" y2="571.50" stroke="#666" stroke-width="0.7" /><line x1="54.60" y1="531.15" x2="56.40" y2="531.15" stroke="#666" stroke-width="0.7" /><line x1="101.19" y1="573.30" x2="101.19" y2="571.50" stroke="#666" stroke-width="0.7" /><line x1="54.60" y1="517.10" x2="56.40" y2="517.10" stroke="#666" stroke-width="0.7" /><line x1="116.72" y1="573.30" x2="116.72" y2="571.50" stroke="#666" stroke-width="0.7" /><line x1="54.60" y1="503.05" x2="56.40" y2="503.05" stroke="#666" stroke-width="0.7" /><line x1="132.25" y1="573.30" x2="132.25" y2="571.50" stroke="#666" stroke-width="0.7" /><line x1="54.60" y1="489.00" x2="56.40" y2="489.00" stroke="#666" stroke-width="0.7" /><line x1="147.78" y1="573.30" x2="147.78" y2="571.50" stroke="#666" stroke-width="0.7" /><line x1="54.60" y1="474.95" x2="56.40" y2="474.95" stroke="#666" stroke-width="0.7" /><line x1="163.31" y1="573.30" x2="163.31" y2="571.50" stroke="#666" stroke-width="0.7" /><line x1="54.60" y1="460.90" x2="56.40" y2="460.90" stroke="#666" stroke-width="0.7" /><line x1="178.84" y1="573.30" x2="178.84" y2="571.50" stroke="#666" stroke-width="0.7" /><line x1="54.60" y1="446.85" x2="56.40" y2="446.85" stroke="#666" stroke-width="0.7" /><line x1="194.37" y1="573.30" x2="194.37" y2="571.50" stroke="#666" stroke-width="0.7" /><line x1="54.60" y1="432.80" x2="56.40" y2="432.80" stroke="#666" stroke-width="0.7" /><line x1="209.90" y1="573.30" x2="209.90" y2="571.50" stroke="#666" stroke-width="0.7" /><line x1="54.60" y1="432.80" x2="209.90" y2="573.30" stroke="#333" stroke-width="0.8" /><text x="52.20" y="437.00" transform="rotate(0.03 52.20 437.00)" font-family="Liberation Sans" font-size="6.8" font-weight="normal" text-anchor="end" fill="#333" >1</text><text x="52.40" y="506.45" transform="rotate(0.03 52.40 506.45)" font-family="Liberation Sans" font-size="6.2" font-weight="normal" text-anchor="end" fill="#333" >0.5</text><text x="52.20" y="572.90" transform="rotate(0.03 52.20 572.90)" font-family="Liberation Sans" font-size="6.8" font-weight="normal" text-anchor="end" fill="#333" >0</text><text x="55.80" y="582.90" transform="rotate(0.03 55.80 582.90)" font-family="Liberation Sans" font-size="6.8" font-weight="normal" text-anchor="middle" fill="#333" >0</text><text x="132.25" y="582.90" transform="rotate(0.03 132.25 582.90)" font-family="Liberation Sans" font-size="6.8" font-weight="normal" text-anchor="middle" fill="#333" >0.5</text><text x="209.90" y="582.90" transform="rotate(0.03 209.90 582.90)" font-family="Liberation Sans" font-size="6.8" font-weight="normal" text-anchor="middle" fill="#333" >1</text><text x="133.60" y="439.70" transform="rotate(0.03 133.60 439.70)" font-family="Liberation Serif" font-size="8" font-weight="bold" text-anchor="middle" fill="#000" >Caco-2</text><text transform="translate(42.90,503.00) rotate(-89.97)" x="0" y="0" font-family="Liberation Serif" font-size="8.3" font-weight="bold" text-anchor="middle" fill="#000">SAL</text><text x="131.60" y="590.50" transform="rotate(0.03 131.60 590.50)" font-family="Liberation Serif" font-size="8" font-weight="bold" text-anchor="middle" fill="#000" >OXA</text><circle cx="87.60" cy="512.00" r="2.80" fill="none" stroke="#3344ff" stroke-width="0.9"/><circle cx="87.60" cy="512.00" r="0.50" fill="#3344ff"/><path d="M73.60,516.00L79.20,521.60M79.20,516.00L73.60,521.60" stroke="#ff2a2a" stroke-width="0.9" fill="none"/><polygon points="65.00,531.40 70.80,531.40 67.90,536.60" fill="none" stroke="#22dd22" stroke-width="0.9"/><rect x="87.30" y="553.10" width="5.40" height="5.40" fill="none" stroke="#ff2a2a" stroke-width="0.9"/><circle cx="90.00" cy="555.80" r="0.50" fill="#ff2a2a"/><path d="M82.90,546.20L88.90,546.20M85.90,543.20L85.90,549.20" stroke="#22dd22" stroke-width="0.9" fill="none"/><polygon points="71.30,554.80 74.40,557.90 71.30,561.00 68.20,557.90" fill="none" stroke="#ff33ff" stroke-width="0.9"/><circle cx="71.30" cy="557.90" r="0.50" fill="#ff33ff"/><polygon points="98.00,564.90 100.90,570.10 95.10,570.10" fill="none" stroke="#22dd22" stroke-width="0.9"/><circle cx="88.00" cy="565.40" r="2.80" fill="none" stroke="#ff33ff" stroke-width="0.9"/><circle cx="88.00" cy="565.40" r="0.50" fill="#ff33ff"/><path d="M77.60,562.00L83.20,567.60M83.20,562.00L77.60,567.60" stroke="#3344ff" stroke-width="0.9" fill="none"/><polygon points="117.20,566.40 123.00,566.40 120.10,571.60" fill="none" stroke="#ff33ff" stroke-width="0.9"/><rect x="102.80" y="566.30" width="5.40" height="5.40" fill="none" stroke="#3344ff" stroke-width="0.9"/><circle cx="105.50" cy="569.00" r="0.50" fill="#3344ff"/><path d="M85.40,569.80L91.40,569.80M88.40,566.80L88.40,572.80" stroke="#ff2a2a" stroke-width="0.9" fill="none"/><polygon points="133.60,569.10 136.70,572.20 133.60,575.30 130.50,572.20" fill="none" stroke="#3344ff" stroke-width="0.9"/><circle cx="133.60" cy="572.20" r="0.50" fill="#3344ff"/><polygon points="119.60,569.60 122.50,574.80 116.70,574.80" fill="none" stroke="#ff2a2a" stroke-width="0.9"/><circle cx="96.20" cy="572.20" r="2.80" fill="none" stroke="#22dd22" stroke-width="0.9"/><circle cx="96.20" cy="572.20" r="0.50" fill="#22dd22"/><rect x="239.70" y="430.20" width="174.60" height="159.40" fill="none" stroke="#000" stroke-width="1.15"/><line x1="259.50" y1="433.30" x2="259.50" y2="569.70" stroke="#2a2a2a" stroke-width="0.85" /><line x1="259.10" y1="569.30" x2="409.70" y2="569.30" stroke="#2a2a2a" stroke-width="0.85" /><line x1="259.50" y1="555.70" x2="261.30" y2="555.70" stroke="#666" stroke-width="0.7" /><line x1="274.52" y1="569.30" x2="274.52" y2="567.50" stroke="#666" stroke-width="0.7" /><line x1="259.50" y1="542.10" x2="261.30" y2="542.10" stroke="#666" stroke-width="0.7" /><line x1="289.54" y1="569.30" x2="289.54" y2="567.50" stroke="#666" stroke-width="0.7" /><line x1="259.50" y1="528.50" x2="261.30" y2="528.50" stroke="#666" stroke-width="0.7" /><line x1="304.56" y1="569.30" x2="304.56" y2="567.50" stroke="#666" stroke-width="0.7" /><line x1="259.50" y1="514.90" x2="261.30" y2="514.90" stroke="#666" stroke-width="0.7" /><line x1="319.58" y1="569.30" x2="319.58" y2="567.50" stroke="#666" stroke-width="0.7" /><line x1="259.50" y1="501.30" x2="261.30" y2="501.30" stroke="#666" stroke-width="0.7" /><line x1="334.60" y1="569.30" x2="334.60" y2="567.50" stroke="#666" stroke-width="0.7" /><line x1="259.50" y1="487.70" x2="261.30" y2="487.70" stroke="#666" stroke-width="0.7" /><line x1="349.62" y1="569.30" x2="349.62" y2="567.50" stroke="#666" stroke-width="0.7" /><line x1="259.50" y1="474.10" x2="261.30" y2="474.10" stroke="#666" stroke-width="0.7" /><line x1="364.64" y1="569.30" x2="364.64" y2="567.50" stroke="#666" stroke-width="0.7" /><line x1="259.50" y1="460.50" x2="261.30" y2="460.50" stroke="#666" stroke-width="0.7" /><line x1="379.66" y1="569.30" x2="379.66" y2="567.50" stroke="#666" stroke-width="0.7" /><line x1="259.50" y1="446.90" x2="261.30" y2="446.90" stroke="#666" stroke-width="0.7" /><line x1="394.68" y1="569.30" x2="394.68" y2="567.50" stroke="#666" stroke-width="0.7" /><line x1="259.50" y1="433.30" x2="261.30" y2="433.30" stroke="#666" stroke-width="0.7" /><line x1="409.70" y1="569.30" x2="409.70" y2="567.50" stroke="#666" stroke-width="0.7" /><line x1="259.50" y1="433.30" x2="409.70" y2="569.30" stroke="#333" stroke-width="0.8" /><text x="257.10" y="437.50" transform="rotate(0.03 257.10 437.50)" font-family="Liberation Sans" font-size="6.8" font-weight="normal" text-anchor="end" fill="#333" >1</text><text x="257.30" y="504.70" transform="rotate(0.03 257.30 504.70)" font-family="Liberation Sans" font-size="6.2" font-weight="normal" text-anchor="end" fill="#333" >0.5</text><text x="257.10" y="568.90" transform="rotate(0.03 257.10 568.90)" font-family="Liberation Sans" font-size="6.8" font-weight="normal" text-anchor="end" fill="#333" >0</text><text x="260.70" y="578.90" transform="rotate(0.03 260.70 578.90)" font-family="Liberation Sans" font-size="6.8" font-weight="normal" text-anchor="middle" fill="#333" >0</text><text x="334.60" y="578.90" transform="rotate(0.03 334.60 578.90)" font-family="Liberation Sans" font-size="6.8" font-weight="normal" text-anchor="middle" fill="#333" >0.5</text><text x="409.70" y="578.90" transform="rotate(0.03 409.70 578.90)" font-family="Liberation Sans" font-size="6.8" font-weight="normal" text-anchor="middle" fill="#333" >1</text><text x="333.50" y="440.40" transform="rotate(0.03 333.50 440.40)" font-family="Liberation Serif" font-size="8" font-weight="bold" text-anchor="middle" fill="#000" >SW480</text><text transform="translate(247.90,502.30) rotate(-89.97)" x="0" y="0" font-family="Liberation Serif" font-size="8.3" font-weight="bold" text-anchor="middle" fill="#000">SAL</text><text x="333.70" y="586.20" transform="rotate(0.03 333.70 586.20)" font-family="Liberation Serif" font-size="8" font-weight="bold" text-anchor="middle" fill="#000" >OXA</text><circle cx="297.90" cy="524.00" r="2.80" fill="none" stroke="#3344ff" stroke-width="0.9"/><circle cx="297.90" cy="524.00" r="0.50" fill="#3344ff"/><path d="M277.30,527.30L282.90,532.90M282.90,527.30L277.30,532.90" stroke="#ff2a2a" stroke-width="0.9" fill="none"/><polygon points="264.40,545.20 270.20,545.20 267.30,550.40" fill="none" stroke="#22dd22" stroke-width="0.9"/><rect x="289.30" y="552.60" width="5.40" height="5.40" fill="none" stroke="#ff2a2a" stroke-width="0.9"/><circle cx="292.00" cy="555.30" r="0.50" fill="#ff2a2a"/><path d="M281.50,549.00L287.50,549.00M284.50,546.00L284.50,552.00" stroke="#22dd22" stroke-width="0.9" fill="none"/><polygon points="267.00,558.10 270.10,561.20 267.00,564.30 263.90,561.20" fill="none" stroke="#ff33ff" stroke-width="0.9"/><circle cx="267.00" cy="561.20" r="0.50" fill="#ff33ff"/><polygon points="285.20,562.30 288.10,567.50 282.30,567.50" fill="none" stroke="#22dd22" stroke-width="0.9"/><circle cx="280.00" cy="563.40" r="2.80" fill="none" stroke="#ff33ff" stroke-width="0.9"/><circle cx="280.00" cy="563.40" r="0.50" fill="#ff33ff"/><path d="M268.20,560.40L273.80,566.00M273.80,560.40L268.20,566.00" stroke="#3344ff" stroke-width="0.9" fill="none"/><polygon points="283.60,564.10 289.40,564.10 286.50,569.30" fill="none" stroke="#ff33ff" stroke-width="0.9"/><rect x="274.20" y="565.10" width="5.40" height="5.40" fill="none" stroke="#3344ff" stroke-width="0.9"/><circle cx="276.90" cy="567.80" r="0.50" fill="#3344ff"/><path d="M268.20,567.60L274.20,567.60M271.20,564.60L271.20,570.60" stroke="#ff2a2a" stroke-width="0.9" fill="none"/><polygon points="287.60,566.20 290.70,569.30 287.60,572.40 284.50,569.30" fill="none" stroke="#3344ff" stroke-width="0.9"/><circle cx="287.60" cy="569.30" r="0.50" fill="#3344ff"/><polygon points="281.50,567.10 284.40,572.30 278.60,572.30" fill="none" stroke="#ff2a2a" stroke-width="0.9"/><circle cx="269.60" cy="569.30" r="2.80" fill="none" stroke="#22dd22" stroke-width="0.9"/><circle cx="269.60" cy="569.30" r="0.50" fill="#22dd22"/><line x1="484.00" y1="431.00" x2="484.00" y2="556.70" stroke="#000" stroke-width="1.1" /><line x1="483.50" y1="556.20" x2="671.70" y2="556.20" stroke="#000" stroke-width="1.1" /><line x1="481.40" y1="431.70" x2="484.00" y2="431.70" stroke="#000" stroke-width="1.1" /><text x="481.00" y="435.10" transform="rotate(0.03 481.00 435.10)" font-family="Liberation Sans" font-size="9.4" font-weight="bold" text-anchor="end" fill="#000" >100</text><line x1="481.40" y1="493.95" x2="484.00" y2="493.95" stroke="#000" stroke-width="1.1" /><text x="481.00" y="497.35" transform="rotate(0.03 481.00 497.35)" font-family="Liberation Sans" font-size="9.4" font-weight="bold" text-anchor="end" fill="#000" >50</text><line x1="481.40" y1="556.20" x2="484.00" y2="556.20" stroke="#000" stroke-width="1.1" /><text x="481.00" y="559.60" transform="rotate(0.03 481.00 559.60)" font-family="Liberation Sans" font-size="9.4" font-weight="bold" text-anchor="end" fill="#000" >0</text><text transform="translate(462.20,490.80) rotate(-89.97)" x="0" y="0" font-family="Liberation Serif" font-size="9.7" font-weight="bold" text-anchor="middle" fill="#000" textLength="52" lengthAdjust="spacingAndGlyphs">Viability(%)</text><rect x="486.80" y="431.70" width="12.2" height="124.50" fill="#ff0000" stroke="#222" stroke-width="0.9"/><rect x="505.40" y="452.12" width="12.2" height="104.08" fill="#00bb00" stroke="#222" stroke-width="0.9"/><rect x="524.60" y="443.90" width="12.2" height="112.30" fill="#ff6600" stroke="#222" stroke-width="0.9"/><rect x="543.80" y="486.36" width="12.2" height="69.84" fill="#aa00ee" stroke="#222" stroke-width="0.9"/><rect x="582.20" y="431.70" width="12.2" height="124.50" fill="#ff0000" stroke="#222" stroke-width="0.9"/><rect x="601.40" y="453.36" width="12.2" height="102.84" fill="#00bb00" stroke="#222" stroke-width="0.9"/><rect x="620.40" y="454.98" width="12.2" height="101.22" fill="#ff6600" stroke="#222" stroke-width="0.9"/><rect x="639.40" y="493.20" width="12.2" height="63.00" fill="#aa00ee" stroke="#222" stroke-width="0.9"/><line x1="511.50" y1="452.12" x2="511.50" y2="451.25" stroke="#00bb00" stroke-width="0.9" /><line x1="508.50" y1="451.25" x2="514.50" y2="451.25" stroke="#00bb00" stroke-width="0.9" /><line x1="530.70" y1="443.90" x2="530.70" y2="443.15" stroke="#ff6600" stroke-width="0.9" /><line x1="527.70" y1="443.15" x2="533.70" y2="443.15" stroke="#ff6600" stroke-width="0.9" /><line x1="549.90" y1="486.36" x2="549.90" y2="485.73" stroke="#aa00ee" stroke-width="0.9" /><line x1="546.90" y1="485.73" x2="552.90" y2="485.73" stroke="#aa00ee" stroke-width="0.9" /><line x1="607.50" y1="453.36" x2="607.50" y2="451.37" stroke="#00bb00" stroke-width="0.9" /><line x1="604.50" y1="451.37" x2="610.50" y2="451.37" stroke="#00bb00" stroke-width="0.9" /><line x1="626.50" y1="454.98" x2="626.50" y2="448.51" stroke="#ff6600" stroke-width="0.9" /><line x1="623.50" y1="448.51" x2="629.50" y2="448.51" stroke="#ff6600" stroke-width="0.9" /><line x1="645.50" y1="493.20" x2="645.50" y2="492.71" stroke="#aa00ee" stroke-width="0.9" /><line x1="642.50" y1="492.71" x2="648.50" y2="492.71" stroke="#aa00ee" stroke-width="0.9" /><text x="511.70" y="453.40" transform="rotate(0.03 511.70 453.40)" font-family="Liberation Sans" font-size="9.5" font-weight="normal" text-anchor="middle" fill="#555" >***</text><text x="530.70" y="445.70" transform="rotate(0.03 530.70 445.70)" font-family="Liberation Sans" font-size="9.5" font-weight="normal" text-anchor="middle" fill="#555" >***</text><text x="549.80" y="475.00" transform="rotate(0.03 549.80 475.00)" font-family="Liberation Sans" font-size="5.4" font-weight="normal" text-anchor="middle" fill="#555" >$$$</text><text x="550.30" y="480.10" transform="rotate(0.03 550.30 480.10)" font-family="Liberation Sans" font-size="6.0" font-weight="normal" text-anchor="middle" fill="#555" >&amp;&amp;&amp;</text><text x="550.30" y="487.70" transform="rotate(0.03 550.30 487.70)" font-family="Liberation Sans" font-size="9.5" font-weight="normal" text-anchor="middle" fill="#555" >***</text><text x="607.50" y="453.70" transform="rotate(0.03 607.50 453.70)" font-family="Liberation Sans" font-size="9.5" font-weight="normal" text-anchor="middle" fill="#555" >***</text><text x="626.70" y="450.30" transform="rotate(0.03 626.70 450.30)" font-family="Liberation Sans" font-size="9.5" font-weight="normal" text-anchor="middle" fill="#555" >***</text><text x="645.50" y="482.40" transform="rotate(0.03 645.50 482.40)" font-family="Liberation Sans" font-size="5.4" font-weight="normal" text-anchor="middle" fill="#555" >$$$</text><text x="645.50" y="487.50" transform="rotate(0.03 645.50 487.50)" font-family="Liberation Sans" font-size="6.0" font-weight="normal" text-anchor="middle" fill="#555" >&amp;&amp;&amp;</text><text x="645.50" y="494.90" transform="rotate(0.03 645.50 494.90)" font-family="Liberation Sans" font-size="9.5" font-weight="normal" text-anchor="middle" fill="#555" >***</text><line x1="522.20" y1="556.20" x2="522.20" y2="558.80" stroke="#000" stroke-width="1" /><line x1="618.60" y1="556.20" x2="618.60" y2="558.80" stroke="#000" stroke-width="1" /><text x="523.50" y="569.20" transform="rotate(0.03 523.50 569.20)" font-family="Liberation Serif" font-size="9.8" font-weight="normal" text-anchor="middle" fill="#000" textLength="27.2" lengthAdjust="spacingAndGlyphs" >Caco-2</text><text x="619.20" y="569.20" transform="rotate(0.03 619.20 569.20)" font-family="Liberation Serif" font-size="9.8" font-weight="normal" text-anchor="middle" fill="#000" textLength="28.5" lengthAdjust="spacingAndGlyphs" >SW480</text><rect x="483.60" y="572.9" width="14.50" height="6.3" fill="#ff0000" stroke="#333" stroke-width="0.8"/><text x="499.00" y="578.90" transform="rotate(0.03 499.00 578.90)" font-family="Liberation Serif" font-size="7.6" font-weight="normal" text-anchor="start" fill="#000" textLength="20.200000000000003" lengthAdjust="spacingAndGlyphs" >control</text><rect x="521.40" y="572.9" width="14.40" height="6.3" fill="#00bb00" stroke="#333" stroke-width="0.8"/><text x="536.40" y="578.90" transform="rotate(0.03 536.40 578.90)" font-family="Liberation Serif" font-size="7.6" font-weight="normal" text-anchor="start" fill="#000" textLength="34.6" lengthAdjust="spacingAndGlyphs" >salinomycin</text><rect x="573.30" y="572.9" width="12.70" height="6.3" fill="#ff6600" stroke="#333" stroke-width="0.8"/><text x="586.90" y="578.90" transform="rotate(0.03 586.90 578.90)" font-family="Liberation Serif" font-size="7.6" font-weight="normal" text-anchor="start" fill="#000" textLength="30.6" lengthAdjust="spacingAndGlyphs" >oxaliplatin</text><rect x="618.40" y="572.9" width="13.60" height="6.3" fill="#aa00ee" stroke="#333" stroke-width="0.8"/><text x="633.00" y="578.90" transform="rotate(0.03 633.00 578.90)" font-family="Liberation Serif" font-size="7.6" font-weight="normal" text-anchor="start" fill="#000" textLength="35.1" lengthAdjust="spacingAndGlyphs" >combination</text><rect x="35.15" y="616.65" width="622.8" height="186.65" fill="none" stroke="#000" stroke-width="2.1"/><text x="44.70" y="646.00" transform="rotate(0.03 44.70 646.00)" font-family="Liberation Serif" font-size="21" font-weight="normal" text-anchor="start" fill="#000" textLength="92.6" lengthAdjust="spacingAndGlyphs" >OXA10μM</text><circle cx="52.40" cy="664.30" r="8.70" fill="#ff0000" /><polygon points="90.20,656.00 98.90,672.80 81.50,672.80" fill="#ff0000" /><polygon points="128.30,655.70 136.80,664.20 128.30,672.70 119.80,664.20" fill="#ff0000" /><polygon points="43.60,692.40 48.00,685.10 56.80,685.10 61.20,692.40 56.80,699.70 48.00,699.70" fill="none" stroke="#0000cc" stroke-width="2.0"/><circle cx="52.40" cy="692.40" r="2.70" fill="#0000cc"/><path d="M82.20,684.40L98.20,700.40M98.20,684.40L82.20,700.40" stroke="#ff0000" stroke-width="1.9" fill="none"/><polygon points="120.00,684.40 136.60,684.40 128.30,699.40" fill="none" stroke="#11aa11" stroke-width="2.1"/><text transform="translate(59.70,705.30) rotate(-89.97)" x="0" y="0" font-family="Liberation Serif" font-size="23.4" font-weight="normal" text-anchor="end" fill="#000" textLength="63.5" lengthAdjust="spacingAndGlyphs">2.5μM</text><text transform="translate(99.10,707.50) rotate(-89.97)" x="0" y="0" font-family="Liberation Serif" font-size="23.4" font-weight="normal" text-anchor="end" fill="#000" textLength="52.2" lengthAdjust="spacingAndGlyphs">5 μM</text><text transform="translate(136.40,706.10) rotate(-89.97)" x="0" y="0" font-family="Liberation Serif" font-size="23.4" font-weight="normal" text-anchor="end" fill="#000" textLength="57.4" lengthAdjust="spacingAndGlyphs">10μM</text><text x="93.20" y="792.80" transform="rotate(0.03 93.20 792.80)" font-family="Liberation Serif" font-size="20.5" font-weight="normal" text-anchor="middle" fill="#000" textLength="36.0" lengthAdjust="spacingAndGlyphs" >SAL</text><text x="168.90" y="646.00" transform="rotate(0.03 168.90 646.00)" font-family="Liberation Serif" font-size="21" font-weight="normal" text-anchor="start" fill="#000" textLength="92.6" lengthAdjust="spacingAndGlyphs" >OXA20μM</text><circle cx="179.30" cy="664.30" r="8.70" fill="#0a720a" /><polygon points="217.10,656.00 225.80,672.80 208.40,672.80" fill="#0a720a" /><polygon points="255.20,655.70 263.70,664.20 255.20,672.70 246.70,664.20" fill="#0a720a" /><rect x="171.30" y="684.40" width="16.00" height="16.00" fill="none" stroke="#ff0000" stroke-width="2.1"/><circle cx="179.30" cy="692.40" r="2.80" fill="#ff0000"/><path d="M208.80,692.40L225.40,692.40M217.10,684.10L217.10,700.70" stroke="#11ee11" stroke-width="2.1" fill="none"/><polygon points="255.20,683.90 263.70,692.40 255.20,700.90 246.70,692.40" fill="none" stroke="#ff44ee" stroke-width="2.1"/><circle cx="255.20" cy="692.40" r="2.80" fill="#ff44ee"/><text transform="translate(185.70,705.30) rotate(-89.97)" x="0" y="0" font-family="Liberation Serif" font-size="23.4" font-weight="normal" text-anchor="end" fill="#000" textLength="63.5" lengthAdjust="spacingAndGlyphs">2.5μM</text><text transform="translate(225.90,707.50) rotate(-89.97)" x="0" y="0" font-family="Liberation Serif" font-size="23.4" font-weight="normal" text-anchor="end" fill="#000" textLength="52.2" lengthAdjust="spacingAndGlyphs">5 μM</text><text transform="translate(264.50,707.50) rotate(-89.97)" x="0" y="0" font-family="Liberation Serif" font-size="23.4" font-weight="normal" text-anchor="end" fill="#000" textLength="57.4" lengthAdjust="spacingAndGlyphs">10μM</text><text x="218.50" y="792.80" transform="rotate(0.03 218.50 792.80)" font-family="Liberation Serif" font-size="20.5" font-weight="normal" text-anchor="middle" fill="#000" textLength="36.0" lengthAdjust="spacingAndGlyphs" >SAL</text><text x="297.40" y="646.00" transform="rotate(0.03 297.40 646.00)" font-family="Liberation Serif" font-size="21" font-weight="normal" text-anchor="start" fill="#000" textLength="92.8" lengthAdjust="spacingAndGlyphs" >OXA40μM</text><circle cx="306.10" cy="664.30" r="8.70" fill="#ff6600" /><polygon points="343.90,656.00 352.60,672.80 335.20,672.80" fill="#ff6600" /><polygon points="382.00,655.70 390.50,664.20 382.00,672.70 373.50,664.20" fill="#ff6600" /><polygon points="306.10,685.00 314.40,700.40 297.80,700.40" fill="none" stroke="#11ee11" stroke-width="2.1"/><polygon points="335.10,692.40 339.50,685.10 348.30,685.10 352.70,692.40 348.30,699.70 339.50,699.70" fill="none" stroke="#ff44ee" stroke-width="2.0"/><circle cx="343.90" cy="692.40" r="2.70" fill="#ff44ee"/><path d="M374.00,684.40L390.00,700.40M390.00,684.40L374.00,700.40" stroke="#0000aa" stroke-width="1.9" fill="none"/><text transform="translate(313.40,706.80) rotate(-89.97)" x="0" y="0" font-family="Liberation Serif" font-size="23.4" font-weight="normal" text-anchor="end" fill="#000" textLength="63.5" lengthAdjust="spacingAndGlyphs">2.5μM</text><text transform="translate(353.60,706.80) rotate(-89.97)" x="0" y="0" font-family="Liberation Serif" font-size="23.4" font-weight="normal" text-anchor="end" fill="#000" textLength="52.2" lengthAdjust="spacingAndGlyphs">5 μM</text><text transform="translate(391.50,706.80) rotate(-89.97)" x="0" y="0" font-family="Liberation Serif" font-size="23.4" font-weight="normal" text-anchor="end" fill="#000" textLength="57.4" lengthAdjust="spacingAndGlyphs">10μM</text><text x="348.90" y="792.80" transform="rotate(0.03 348.90 792.80)" font-family="Liberation Serif" font-size="20.5" font-weight="normal" text-anchor="middle" fill="#000" textLength="36.0" lengthAdjust="spacingAndGlyphs" >SAL</text><text x="422.50" y="646.00" transform="rotate(0.03 422.50 646.00)" font-family="Liberation Serif" font-size="21" font-weight="normal" text-anchor="start" fill="#000" textLength="91.19999999999999" lengthAdjust="spacingAndGlyphs" >OXA80μM</text><circle cx="433.00" cy="664.30" r="8.70" fill="#75088f" /><polygon points="470.80,656.00 479.50,672.80 462.10,672.80" fill="#75088f" /><polygon points="508.90,655.70 517.40,664.20 508.90,672.70 500.40,664.20" fill="#75088f" /><polygon points="424.70,684.40 441.30,684.40 433.00,699.40" fill="none" stroke="#ff44ee" stroke-width="2.1"/><rect x="462.80" y="684.40" width="16.00" height="16.00" fill="none" stroke="#0000ff" stroke-width="2.1"/><circle cx="470.80" cy="692.40" r="2.80" fill="#0000ff"/><path d="M500.60,692.40L517.20,692.40M508.90,684.10L508.90,700.70" stroke="#ff0000" stroke-width="2.1" fill="none"/><text transform="translate(443.40,707.50) rotate(-89.97)" x="0" y="0" font-family="Liberation Serif" font-size="23.4" font-weight="normal" text-anchor="end" fill="#000" textLength="63.5" lengthAdjust="spacingAndGlyphs">2.5μM</text><text transform="translate(479.10,709.00) rotate(-89.97)" x="0" y="0" font-family="Liberation Serif" font-size="23.4" font-weight="normal" text-anchor="end" fill="#000" textLength="52.2" lengthAdjust="spacingAndGlyphs">5 μM</text><text transform="translate(517.10,709.00) rotate(-89.97)" x="0" y="0" font-family="Liberation Serif" font-size="23.4" font-weight="normal" text-anchor="end" fill="#000" textLength="57.4" lengthAdjust="spacingAndGlyphs">10μM</text><text x="478.60" y="792.80" transform="rotate(0.03 478.60 792.80)" font-family="Liberation Serif" font-size="20.5" font-weight="normal" text-anchor="middle" fill="#000" textLength="36.0" lengthAdjust="spacingAndGlyphs" >SAL</text><text x="541.60" y="646.00" transform="rotate(0.03 541.60 646.00)" font-family="Liberation Serif" font-size="21" font-weight="normal" text-anchor="start" fill="#000" textLength="102.3" lengthAdjust="spacingAndGlyphs" >OXA160μM</text><circle cx="560.00" cy="664.30" r="8.70" fill="#0000cc" /><polygon points="597.80,656.00 606.50,672.80 589.10,672.80" fill="#0000cc" /><polygon points="635.90,655.70 644.40,664.20 635.90,672.70 627.40,664.20" fill="#0000cc" /><polygon points="560.00,683.90 568.50,692.40 560.00,700.90 551.50,692.40" fill="none" stroke="#0000aa" stroke-width="2.1"/><circle cx="560.00" cy="692.40" r="2.80" fill="#0000aa"/><polygon points="597.80,685.00 606.10,700.40 589.50,700.40" fill="none" stroke="#ff0000" stroke-width="2.1"/><polygon points="627.10,692.40 631.50,685.10 640.30,685.10 644.70,692.40 640.30,699.70 631.50,699.70" fill="none" stroke="#11ee11" stroke-width="2.0"/><circle cx="635.90" cy="692.40" r="2.70" fill="#11ee11"/><text transform="translate(570.10,708.30) rotate(-89.97)" x="0" y="0" font-family="Liberation Serif" font-size="23.4" font-weight="normal" text-anchor="end" fill="#000" textLength="63.5" lengthAdjust="spacingAndGlyphs">2.5μM</text><text transform="translate(606.90,709.00) rotate(-89.97)" x="0" y="0" font-family="Liberation Serif" font-size="23.4" font-weight="normal" text-anchor="end" fill="#000" textLength="52.2" lengthAdjust="spacingAndGlyphs">5 μM</text><text transform="translate(647.00,707.90) rotate(-89.97)" x="0" y="0" font-family="Liberation Serif" font-size="23.4" font-weight="normal" text-anchor="end" fill="#000" textLength="57.4" lengthAdjust="spacingAndGlyphs">10μM</text><text x="606.60" y="792.80" transform="rotate(0.03 606.60 792.80)" font-family="Liberation Serif" font-size="20.5" font-weight="normal" text-anchor="middle" fill="#000" textLength="36.0" lengthAdjust="spacingAndGlyphs" >SAL</text>
</svg>
</body></html>
